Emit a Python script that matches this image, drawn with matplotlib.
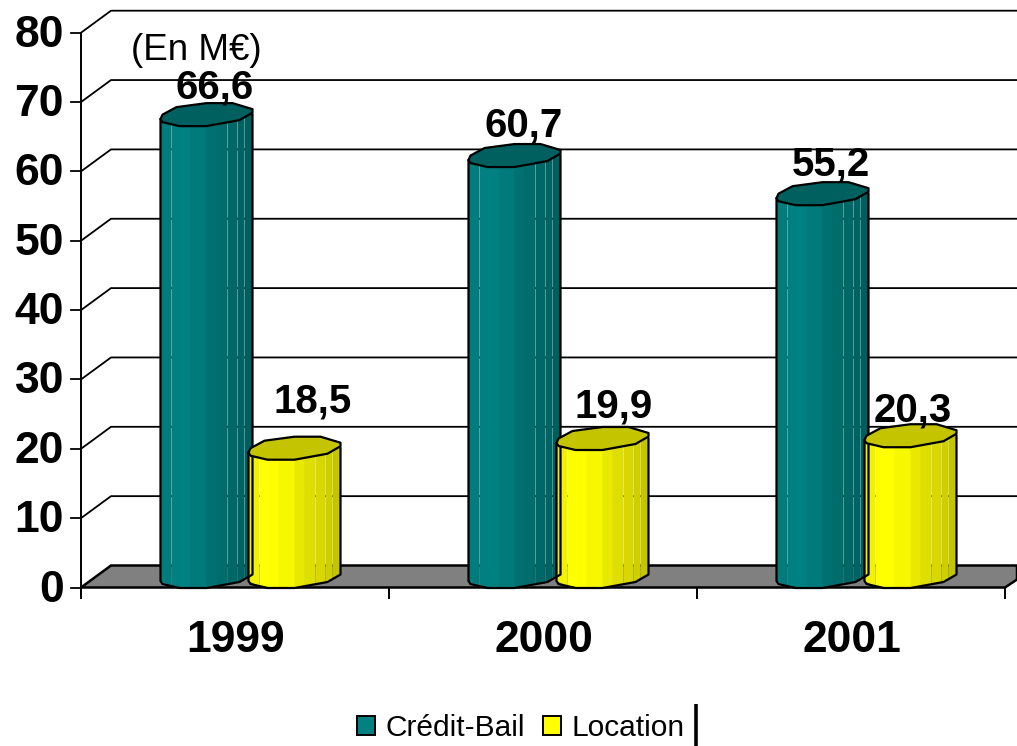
import numpy as np
import matplotlib
matplotlib.use("Agg")
import matplotlib.pyplot as plt
from matplotlib.patches import Patch, Polygon

plt.rcParams['font.family'] = ['Liberation Sans', 'DejaVu Sans']

years = ["1999", "2000", "2001"]
credit_bail = [66.6, 60.7, 55.2]
location = [18.5, 19.9, 20.3]
y_ticks = [0, 10, 20, 30, 40, 50, 60, 70, 80]

#%% scale of the plot, pixels per unit on each axis
W, H = 1017, 746
X0, Y0 = 81, 587.5
XU, YU = 308, 6.935
DX, DY = 30/XU, 22/YU   # depth of the 3d box

# outline of a cylinder cap, pixels from its centre
cap_x = np.array([-46, -44, -30, 0, 26, 46, 46, 33, 0, -27, -44])
cap_y = np.array([-4.5, 0, 7.5, 11.5, 11.5, 5.5, 2, -5.5, -11.5, -11.5, -7.5])
low_x = np.array([-46, -44, -27, 0, 33, 46])
low_y = np.array([-4.5, -7.5, -11.5, -11.5, -5.5, 2])
facets = np.array([-46, -35, -16, 0, 10, 21, 31, 38, 46])
gaps = [0.15, -0.6, -0.6, -0.6, 0.2, 0.2, 0.2, 0.2]   # seam after each facet, negative overlaps
teal = ["#007c7c", "#008080", "#007a7a", "#007070", "#006c6c", "#006767", "#006363", "#005e5e"]
yellow = ["#f2f200", "#ffff00", "#f7f700", "#e8e800", "#dede00", "#d8d800", "#cfcf00", "#c4c400"]

fig = plt.figure(figsize=(W/100, H/100), dpi=100)
ax = fig.add_axes([0, 0, 1, 1])
ax.set_xlim(-X0/XU, (W-X0)/XU)
ax.set_ylim((Y0-H)/YU, Y0/YU)
ax.axis('off')

def cylinder(centre, value, colors, top):
    # centre in category units, base and top follow the same cap outline
    cx = centre + DX/2
    mid = DY/2
    low = lambda px: np.interp(px, low_x, low_y)/YU
    for i in range(len(colors)):
        a, b = facets[i], min(facets[i+1]-gaps[i], 46)
        xs = [cx+a/XU, cx+b/XU, cx+b/XU, cx+a/XU]
        ys = [value+mid+low(a), value+mid+low(b), mid+low(b), mid+low(a)]
        ax.add_patch(Polygon(np.c_[xs, ys], fc=colors[i], ec='none', zorder=3))
    # outline of the body
    ox = np.r_[cx-46/XU, cx+low_x/XU, cx+46/XU]
    oy = np.r_[value+mid-4.5/YU, mid+low_y/YU, value+mid]
    ax.plot(ox, oy, color='black', lw=1.6, zorder=4, solid_joinstyle='round')
    ax.add_patch(Polygon(np.c_[cx+cap_x/XU, value+mid+cap_y/YU], fc=top, ec='black', lw=1.6,
                         joinstyle='round', zorder=4))
    return cx, value+mid+cap_y.max()/YU

#%% walls and floor
x_end = (W-X0)/XU
for t in y_ticks[1:]:
    ax.plot([0, DX, x_end], [t, t+DY, t+DY], color='black', lw=1.3, zorder=1)
    ax.plot([-10/XU, 0], [t, t], color='black', lw=1.3, zorder=1)
ax.plot([-10/XU, 0], [0, 0], color='black', lw=1.3, zorder=1)
floor = [(0, 0), (DX, DY), (x_end, DY), (x_end, 8/YU), (3, 0)]
ax.add_patch(Polygon(floor, fc='#808080', ec='black', lw=1.8, zorder=2))
ax.plot([0, 0], [-10/YU, 80], color='black', lw=1.4, zorder=5)
for i in range(4):
    ax.plot([i, i], [-10/YU, 0], color='black', lw=1.4, zorder=5)

for t in y_ticks:
    ax.text(-17/XU, t+2/YU, str(t), ha='right', va='center_baseline', fontsize=32, fontweight='bold', zorder=6)
for i, year in enumerate(years):
    ax.text(i+0.5+1/XU, -48/YU, year, ha='center', va='center_baseline', fontsize=32, fontweight='bold', zorder=6)

#%% bars and value labels, label shifts in pixels
shift_a = [(8, 31), (9, 34), (8, 33)]
shift_b = [(18, 51), (11, 36), (2, 29)]
for i in range(len(years)):
    px, py = cylinder(i+0.5-43.5/XU, credit_bail[i], teal, '#006060')
    ax.text(px+shift_a[i][0]/XU, py-11.5/YU+shift_a[i][1]/YU, str(credit_bail[i]).replace('.', ','),
            ha='center', va='center_baseline', fontsize=29, fontweight='bold', zorder=7)
    px, py = cylinder(i+0.5+44.5/XU, location[i], yellow, '#c4c400')
    ax.text(px+shift_b[i][0]/XU, py-11.5/YU+shift_b[i][1]/YU, str(location[i]).replace('.', ','),
            ha='center', va='center_baseline', fontsize=29, fontweight='bold', zorder=7)

ax.text(131/XU-X0/XU, (Y0-47)/YU, "(En M€)", ha='left', va='center_baseline', fontsize=26.5, zorder=6)

#%% legend and the stray bar beside it
handles = [Patch(fc='#008080', ec='black', lw=1.4, label='Crédit-Bail'),
           Patch(fc='#ffff00', ec='black', lw=1.4, label='Location')]
ax.legend(handles=handles, ncol=2, frameon=False, fontsize=21.5, loc='center',
          bbox_to_anchor=(521/W, 1-728.5/H), handlelength=0.6, handleheight=0.6,
          handletextpad=0.35, columnspacing=0.6, borderpad=0, borderaxespad=0)
ax.plot([(695.5-X0)/XU]*2, [(Y0-704)/YU, (Y0-746)/YU], color='black', lw=2.6, zorder=6, solid_capstyle='butt')

fig.savefig("out.png", dpi=100)
